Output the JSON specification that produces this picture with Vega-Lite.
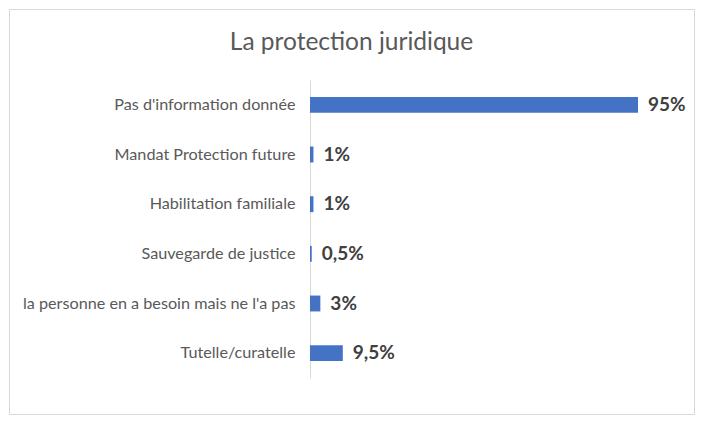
{
  "$schema": "https://vega.github.io/schema/vega-lite/v6.json",
  "autosize": "none",
  "width": 685,
  "height": 405,
  "padding": {"left": 9, "top": 9, "right": 9, "bottom": 7},
  "background": "white",
  "config": {
    "view": {"stroke": "#D9D9D9", "strokeWidth": 1},
    "font": "Lato"
  },
  "title": {
    "text": "La protection juridique",
    "font": "Lato",
    "fontSize": 24.5,
    "fontWeight": "normal",
    "color": "#595959",
    "anchor": "middle",
    "frame": "group",
    "baseline": "alphabetic",
    "offset": -65
  },
  "data": {
    "values": [
      {"cat": "Pas d'information donnée", "v": 95, "label": "95%"},
      {"cat": "Mandat Protection future", "v": 1, "label": "1%"},
      {"cat": "Habilitation familiale", "v": 1, "label": "1%"},
      {"cat": "Sauvegarde de justice", "v": 0.5, "label": "0,5%"},
      {"cat": "la personne en a besoin mais ne l'a pas", "v": 3, "label": "3%"},
      {"cat": "Tutelle/curatelle", "v": 9.5, "label": "9,5%"}
    ]
  },
  "encoding": {
    "y": {
      "field": "cat",
      "type": "nominal",
      "sort": null,
      "scale": {"range": [71, 369], "paddingInner": 0.68, "paddingOuter": 0.34},
      "axis": {
        "title": null,
        "offset": -301,
        "ticks": false,
        "domainColor": "#D9D9D9",
        "domainWidth": 1,
        "labelFont": "Lato",
        "labelFontSize": 16.2,
        "labelColor": "#595959",
        "labelPadding": 15,
        "labelLimit": 400
      }
    },
    "x": {
      "field": "v",
      "type": "quantitative",
      "scale": {"domain": [-87.18, 111.22], "nice": false, "zero": false},
      "axis": null
    }
  },
  "layer": [
    {"mark": {"type": "bar", "color": "#4472C4"}},
    {
      "mark": {"type": "text", "align": "left", "baseline": "middle", "dx": 10, "fontSize": 19, "fontWeight": "bold", "color": "#404040", "font": "Lato"},
      "encoding": {"text": {"field": "label"}}
    }
  ]
}
